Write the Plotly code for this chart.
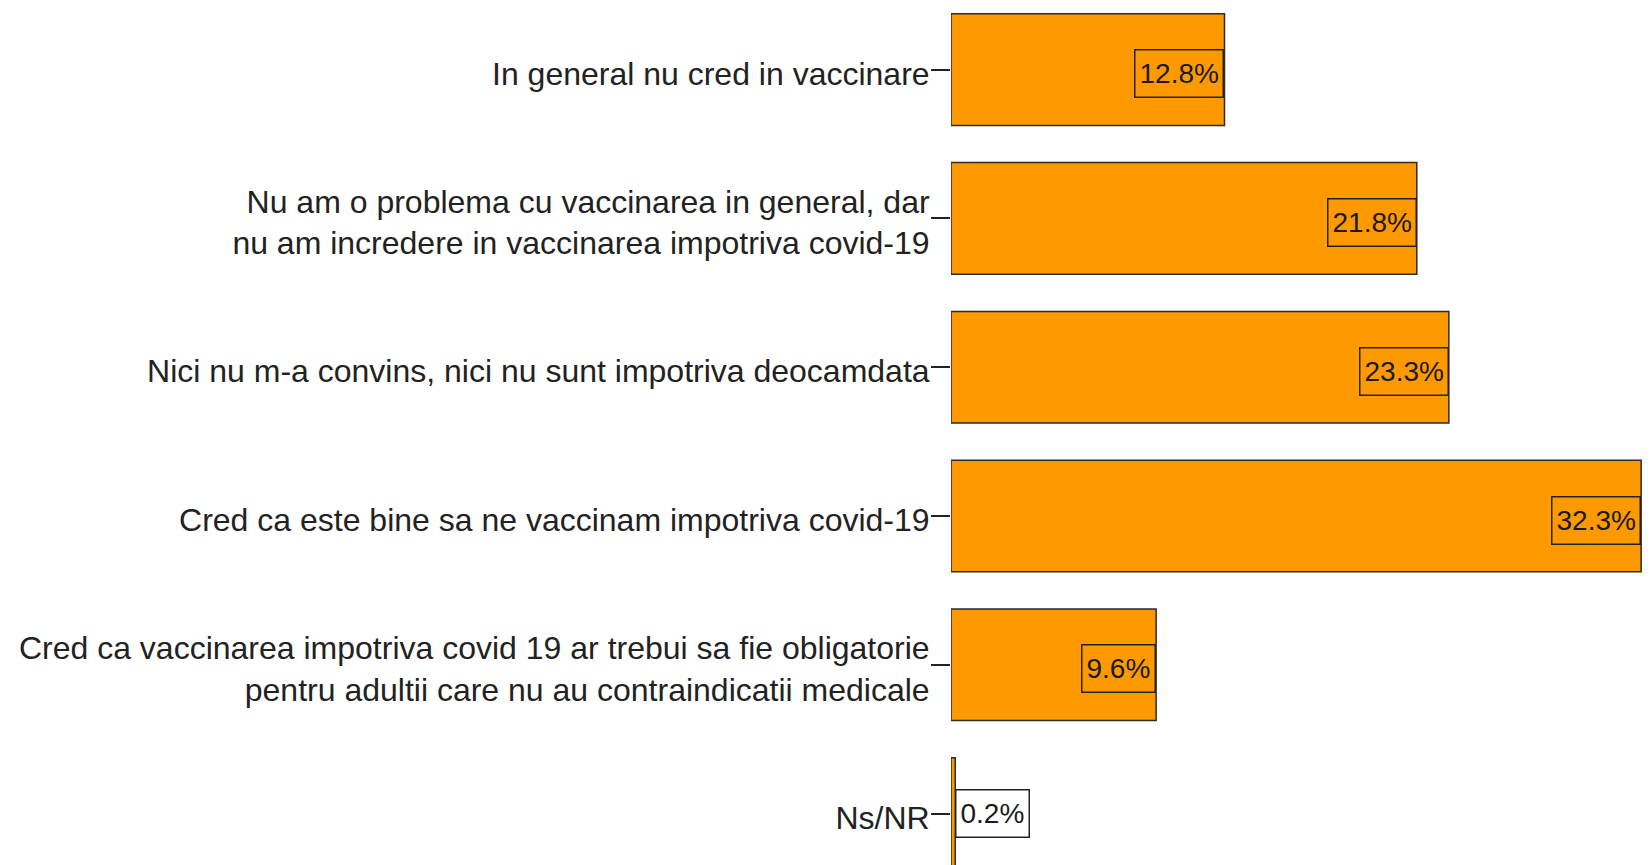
import plotly.graph_objects as go

categories = [
    "In general nu cred in vaccinare",
    "Nu am o problema cu vaccinarea in general, dar<br>nu am incredere in vaccinarea impotriva covid-19",
    "Nici nu m-a convins, nici nu sunt impotriva deocamdata",
    "Cred ca este bine sa ne vaccinam impotriva covid-19",
    "Cred ca vaccinarea impotriva covid 19 ar trebui sa fie obligatorie<br>pentru adultii care nu au contraindicatii medicale",
    "Ns/NR",
]
values = [12.8, 21.8, 23.3, 32.3, 9.6, 0.2]
labels = ["12.8%", "21.8%", "23.3%", "32.3%", "9.6%", "0.2%"]

FONT = "Liberation Sans, Arial, sans-serif"
ORANGE = "#FF9900"

fig = go.Figure(
    go.Bar(
        x=values,
        y=categories,
        orientation="h",
        width=0.75,
        marker=dict(color=ORANGE, line=dict(color="#2b2b2b", width=1.5)),
        hoverinfo="skip",
    )
)

for cat, v, lab in zip(categories, values, labels):
    inside = v > 2
    fig.add_annotation(
        x=v,
        y=cat,
        xref="x",
        yref="y",
        text=lab,
        showarrow=False,
        xanchor="right" if inside else "left",
        yanchor="middle",
        yshift=-4 if inside else 0,
        height=38,
        align="center",
        valign="middle",
        bordercolor="#222222",
        borderwidth=1.5,
        borderpad=4,
        bgcolor="rgba(0,0,0,0)" if inside else "#FFFFFF",
        font=dict(family=FONT, size=28, color="#1a1a1a"),
    )

H = 857
fig.update_layout(
    width=1634,
    height=H,
    margin=dict(l=943, r=0, t=0, b=0),
    paper_bgcolor="#FFFFFF",
    plot_bgcolor="#FFFFFF",
    showlegend=False,
    xaxis=dict(
        range=[0, 32.34],
        showgrid=False,
        zeroline=False,
        showticklabels=False,
        ticks="",
        showline=False,
    ),
    yaxis=dict(
        type="category",
        range=[(H - 61.6) / 148.8, -0.414],
        showgrid=False,
        zeroline=False,
        showline=False,
        ticks="outside",
        ticklen=19,
        tickwidth=2,
        tickcolor="#222222",
        ticklabelstandoff=-5,
        ticklabelshift=-4,
        tickfont=dict(family=FONT, size=32, color="#222222"),
    ),
)

fig.write_html("out.html")
